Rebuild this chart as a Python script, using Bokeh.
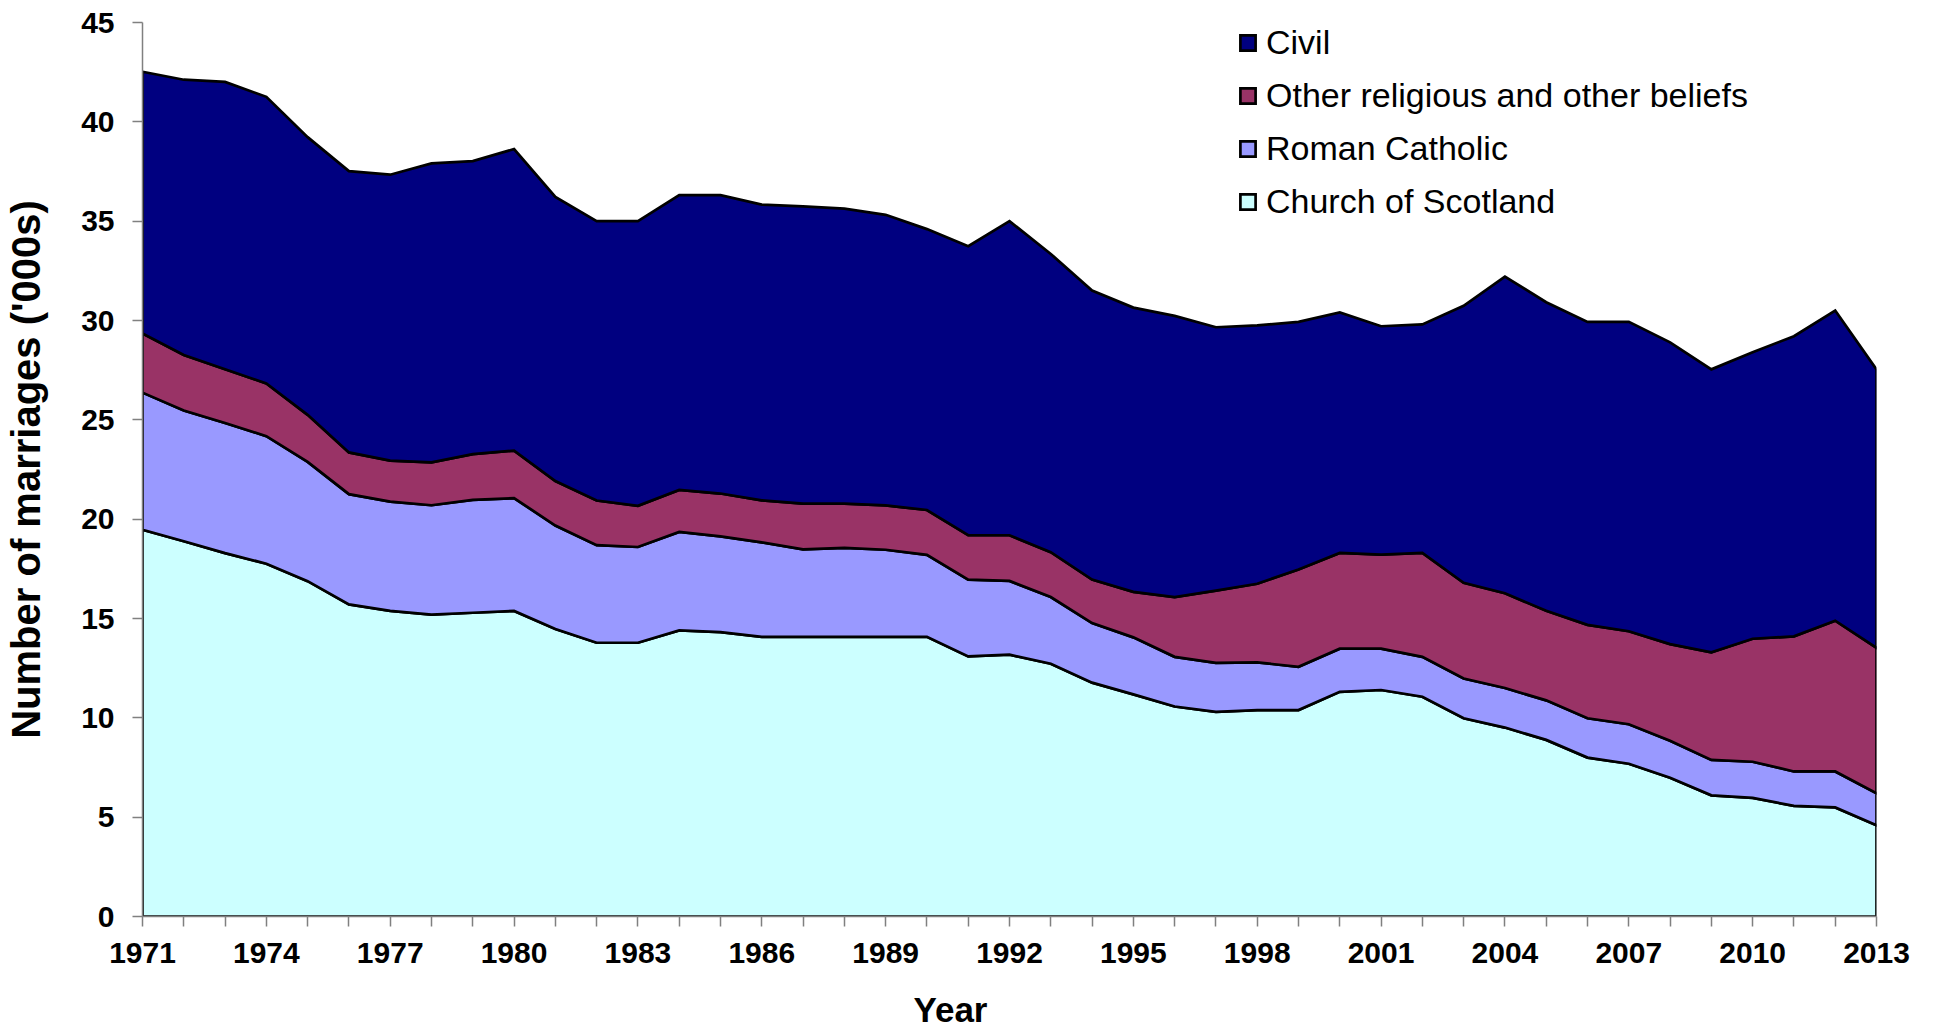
from bokeh.plotting import figure
from bokeh.models import Range1d, FixedTicker, Legend, LegendItem, Title
from bokeh.embed import file_html
from bokeh.resources import INLINE

years = list(range(1971, 2014))

church_of_scotland = [19.47, 18.89, 18.29, 17.76, 16.88, 15.71, 15.38, 15.20, 15.29, 15.38,
                      14.47, 13.78, 13.78, 14.40, 14.31, 14.08, 14.08, 14.08, 14.08, 14.08,
                      13.09, 13.18, 12.72, 11.77, 11.18, 10.57, 10.30, 10.39, 10.39, 11.31,
                      11.40, 11.06, 9.98, 9.51, 8.89, 8.00, 7.69, 6.98, 6.10, 5.97,
                      5.57, 5.49, 4.59]
roman_catholic = [6.90, 6.58, 6.55, 6.42, 6.00, 5.55, 5.50, 5.50, 5.68, 5.68,
                  5.21, 4.91, 4.82, 4.96, 4.82, 4.75, 4.40, 4.47, 4.38, 4.12,
                  3.87, 3.71, 3.36, 3.00, 2.87, 2.50, 2.47, 2.40, 2.18, 2.17,
                  2.08, 2.01, 2.00, 1.99, 1.99, 1.98, 1.99, 1.87, 1.78, 1.82,
                  1.73, 1.81, 1.61]
other_beliefs = [2.98, 2.79, 2.71, 2.65, 2.37, 2.10, 2.07, 2.16, 2.30, 2.39,
                 2.24, 2.25, 2.07, 2.11, 2.16, 2.12, 2.30, 2.23, 2.23, 2.26,
                 2.23, 2.30, 2.26, 2.19, 2.29, 3.01, 3.63, 3.96, 4.90, 4.82,
                 4.74, 5.23, 4.82, 4.77, 4.51, 4.70, 4.68, 4.86, 5.42, 6.19,
                 6.80, 7.59, 7.32]
civil = [13.17, 13.86, 14.46, 14.43, 13.98, 14.16, 14.39, 15.05, 14.75, 15.18,
         14.30, 14.06, 14.33, 14.84, 15.02, 14.88, 14.96, 14.85, 14.63, 14.14,
         14.55, 15.81, 15.01, 14.55, 14.31, 14.15, 13.26, 13.00, 12.46, 12.11,
         11.49, 11.50, 13.94, 15.94, 15.53, 15.25, 15.57, 15.19, 14.24, 14.42,
         15.11, 15.61, 14.02]

series_names = ["Church of Scotland", "Roman Catholic",
                "Other religious and other beliefs", "Civil"]
series_values = [church_of_scotland, roman_catholic, other_beliefs, civil]
series_colors = ["#CCFFFF", "#9999FF", "#993366", "#000080"]

y_ticks = [0, 5, 10, 15, 20, 25, 30, 35, 40, 45]
label_years = [1971, 1974, 1977, 1980, 1983, 1986, 1989, 1992, 1995, 1998,
               2001, 2004, 2007, 2010, 2013]

FONT = "Liberation Sans"

p = figure(width=1930, height=1028, output_backend="svg", toolbar_location=None,
           x_range=Range1d(1971, 2013), y_range=Range1d(0, 45),
           min_border_left=142, min_border_right=54, min_border_top=22,
           min_border_bottom=112)
p.outline_line_color = None
p.grid.visible = False
p.background_fill_color = "white"

renderers = {}
bottom = [0.0] * len(years)
for name, vals, col in zip(series_names, series_values, series_colors):
    top = [b + v for b, v in zip(bottom, vals)]
    xs = years + years[::-1]
    ys = top + bottom[::-1]
    r = p.patch(xs, ys, fill_color=col, line_color="black", line_width=2.7,
                line_join="miter")
    renderers[name] = r
    bottom = top

# axes
for ax in (p.xaxis[0], p.yaxis[0]):
    ax.axis_line_color = "#808080"
    ax.axis_line_width = 1.5
    ax.major_tick_line_color = "#808080"
    ax.major_tick_line_width = 1.5
    ax.minor_tick_line_color = None
    ax.major_tick_in = 0
    ax.major_tick_out = 10
    ax.major_label_text_font = FONT
    ax.major_label_text_font_style = "bold"
    ax.major_label_text_font_size = "30px"
    ax.major_label_text_color = "black"

p.yaxis.ticker = FixedTicker(ticks=y_ticks)
p.yaxis.major_label_standoff = 18
p.yaxis.axis_label = "Number of marriages ('000s)"
p.yaxis.axis_label_text_font = FONT
p.yaxis.axis_label_text_font_style = "bold"
p.yaxis.axis_label_text_font_size = "40px"
p.yaxis.axis_label_text_color = "black"
p.yaxis.axis_label_standoff = 30

p.xaxis.ticker = FixedTicker(ticks=years)
p.xaxis.major_label_overrides = {y: (str(y) if y in label_years else "") for y in years}
p.xaxis.major_label_standoff = 16

# small spacer, then the x-axis title placed left of centre as in the original
p.add_layout(Title(text=" ", text_font_size="1px", standoff=19), "below")
p.add_layout(Title(text="Year", align="left", offset=771, text_font=FONT,
                   text_font_style="bold", text_font_size="35px",
                   text_color="black", standoff=0), "below")

legend_order = ["Civil", "Other religious and other beliefs", "Roman Catholic",
                "Church of Scotland"]
legend = Legend(items=[LegendItem(label=n, renderers=[renderers[n]]) for n in legend_order],
                location=(1096, 695), orientation="vertical",
                glyph_width=19, glyph_height=19, label_standoff=9, spacing=14,
                padding=0, margin=0, border_line_color=None,
                background_fill_alpha=0,
                label_text_font=FONT, label_text_font_size="34px",
                label_text_color="black")
p.add_layout(legend)

open("out.html", "w").write(file_html(p, INLINE))
